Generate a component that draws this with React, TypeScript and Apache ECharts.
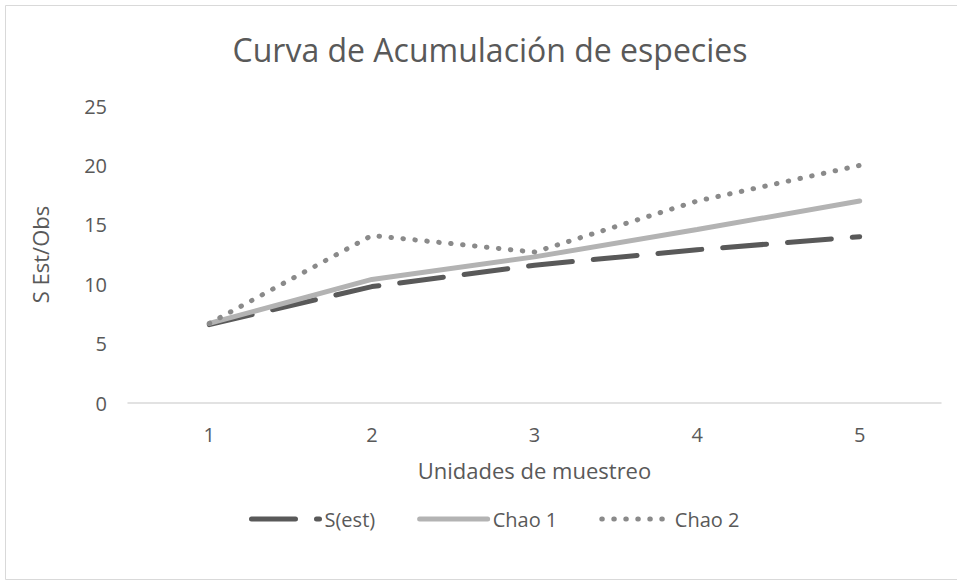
import React, { useEffect, useRef } from "react";
import * as echarts from "echarts";

const categories = ["1", "2", "3", "4", "5"];
const sEst = [6.6, 9.8, 11.6, 12.9, 14.0];
const chao1 = [6.7, 10.4, 12.3, 14.6, 17.0];
const chao2 = [6.7, 14.1, 12.7, 17.0, 20.0];

const FONT = "'Open Sans', sans-serif";
const TXT = "#595959";

export default function App() {
  const ref = useRef<HTMLDivElement>(null);
  useEffect(() => {
    if (!ref.current) return;
    const chart = echarts.init(ref.current, null, { renderer: "svg" });
    chart.setOption({
      animation: false,
      backgroundColor: "#ffffff",
      textStyle: { fontFamily: FONT },
      title: {
        text: "Curva de Acumulación de especies",
        left: 485,
        top: 28,
        textAlign: "center",
        textStyle: { fontFamily: FONT, fontSize: 32, fontWeight: "normal", color: TXT },
      },
      graphic: [
        {
          type: "rect",
          shape: { x: 5.5, y: 5.5, width: 960, height: 574 },
          style: { fill: "none", stroke: "#d9d9d9", lineWidth: 1 },
          silent: true,
        },
      ],
      legend: {
        top: 504,
        left: 244,
        itemWidth: 68,
        itemHeight: 14,
        itemGap: 42,
        itemStyle: { opacity: 0 },
        lineStyle: { width: 5, cap: "round" },
        textStyle: { fontFamily: FONT, fontSize: 20, color: TXT },
        data: ["S(est)", "Chao 1", "Chao 2"],
      },
      grid: { left: 128, right: 16, top: 106, bottom: 582 - 403 },
      xAxis: {
        type: "category",
        data: categories,
        boundaryGap: true,
        name: "Unidades de muestreo",
        nameLocation: "middle",
        nameGap: 56,
        nameTextStyle: { fontFamily: FONT, fontSize: 22, color: TXT },
        axisLine: { lineStyle: { color: "#d9d9d9", width: 1.5 } },
        axisTick: { show: false },
        axisLabel: { fontFamily: FONT, fontSize: 20, color: TXT, margin: 21 },
      },
      yAxis: {
        type: "value",
        min: 0,
        max: 25,
        interval: 5,
        name: "S Est/Obs",
        nameLocation: "middle",
        nameGap: 77,
        nameTextStyle: { fontFamily: FONT, fontSize: 22, color: TXT },
        axisLine: { show: false },
        axisTick: { show: false },
        splitLine: { show: false },
        axisLabel: { fontFamily: FONT, fontSize: 20, color: TXT, margin: 21 },
      },
      series: [
        {
          name: "S(est)",
          type: "line",
          data: sEst,
          symbol: "none",
          color: "#595959",
          lineStyle: { color: "#595959", width: 5, type: [44, 21], cap: "round" },
        },
        {
          name: "Chao 1",
          type: "line",
          data: chao1,
          symbol: "none",
          color: "#b3b3b3",
          lineStyle: { color: "#b3b3b3", width: 5, type: "solid", cap: "round" },
        },
        {
          name: "Chao 2",
          type: "line",
          data: chao2,
          symbol: "none",
          color: "#8a8a8a",
          lineStyle: { color: "#8a8a8a", width: 5, type: [0.5, 11.5], cap: "round" },
        },
      ],
    });
    return () => chart.dispose();
  }, []);
  return (
    <div
      ref={ref}
      style={{ position: "absolute", left: 0, top: 0, width: 957, height: 582 }}
    />
  );
}
